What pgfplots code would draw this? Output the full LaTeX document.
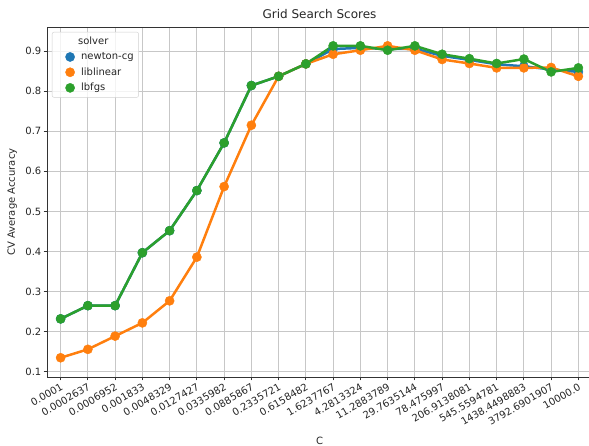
\documentclass[border=0pt]{standalone}
\usepackage{fontspec}
\setmainfont{DejaVu Sans}
\usepackage{pgfplots}
\pgfplotsset{compat=1.18}
\definecolor{tabblue}{HTML}{1F77B4}
\definecolor{taborange}{HTML}{FF7F0E}
\definecolor{tabgreen}{HTML}{2CA02C}
\definecolor{txt}{HTML}{262626}
\begin{document}
\begin{tikzpicture}
\begin{axis}[
  at={(47pt,69pt)}, anchor=south west,
  scale only axis, width=545pt, height=350pt,
  xmin=-0.5, xmax=19.5, ymin=0.087, ymax=0.96,
  xtick={0,...,19},
  xticklabels={0.0001,0.0002637,0.0006952,0.001833,0.0048329,0.0127427,0.0335982,0.0885867,0.2335721,0.6158482,1.6237767,4.2813324,11.2883789,29.7635144,78.475997,206.9138081,545.5594781,1438.4498883,3792.6901907,10000.0},
  ytick={0.1,0.2,0.3,0.4,0.5,0.6,0.7,0.8,0.9},
  yticklabels={0.1,0.2,0.3,0.4,0.5,0.6,0.7,0.8,0.9},
  /pgf/number format/assume math mode=true,
  tick pos=left, tick align=outside, major tick length=3.5pt,
  tick style={color=black!80, line width=0.8pt},
  axis line style={color=black!80, line width=0.8pt},
  grid=major, major grid style={color=black!22, line width=0.9pt},
  tick label style={font=\fontsize{10}{12}\selectfont, text=txt},
  xticklabel style={rotate=30, anchor=north east, inner sep=1.5pt},
  yticklabel style={inner sep=2pt},
  title={Grid Search Scores},
  title style={font=\fontsize{12}{14}\selectfont, text=txt, yshift=-1pt},
  xlabel={C}, ylabel={CV Average Accuracy},
  label style={font=\fontsize{10}{12}\selectfont, text=txt},
  xlabel style={at={(axis description cs:0.5,0)}, anchor=center, yshift=-64pt},
  ylabel style={at={(axis description cs:-0.064,0.5)}, anchor=center},
  legend style={at={(axis description cs:0.009,0.986)}, anchor=north west,
    draw=black!18, rounded corners=2pt, fill=white, fill opacity=0.8, text opacity=1,
    font=\fontsize{10}{12}\selectfont, text=txt, row sep=2.5pt, inner sep=3pt},
  legend cell align=left,
  legend image code/.code={\path[draw=none,fill=none] (0pt,0pt) rectangle (24pt,0.1pt); \draw[#1, fill opacity=1, draw opacity=1] plot[only marks] coordinates {(15pt,0pt)};},
  every axis plot/.append style={line width=2.5pt, mark=*, mark size=4.6pt},
]
\addlegendimage{empty legend}
\addlegendentry{\hspace{-3pt}solver}
\addplot[color=tabblue, mark options={fill=tabblue, draw=tabblue, line width=0.4pt}] coordinates {
(0,0.232)(1,0.265)(2,0.265)(3,0.397)(4,0.452)(5,0.552)(6,0.671)(7,0.814)(8,0.837)(9,0.868)
(10,0.905)(11,0.908)(12,0.905)(13,0.906)(14,0.888)(15,0.878)(16,0.867)(17,0.862)(18,0.854)(19,0.848)};
\addlegendentry{newton-cg}
\addplot[color=taborange, mark options={fill=taborange, draw=taborange, line width=0.4pt}] coordinates {
(0,0.135)(1,0.156)(2,0.189)(3,0.222)(4,0.277)(5,0.386)(6,0.562)(7,0.715)(8,0.837)(9,0.868)
(10,0.892)(11,0.902)(12,0.913)(13,0.902)(14,0.879)(15,0.869)(16,0.858)(17,0.858)(18,0.859)(19,0.837)};
\addlegendentry{liblinear}
\addplot[color=tabgreen, mark options={fill=tabgreen, draw=tabgreen, line width=0.4pt}] coordinates {
(0,0.232)(1,0.265)(2,0.265)(3,0.397)(4,0.452)(5,0.552)(6,0.671)(7,0.814)(8,0.837)(9,0.868)
(10,0.913)(11,0.913)(12,0.902)(13,0.913)(14,0.892)(15,0.881)(16,0.869)(17,0.880)(18,0.848)(19,0.858)};
\addlegendentry{lbfgs}
\end{axis}
\pgfresetboundingbox
\path[use as bounding box] (0pt,0pt) rectangle (589pt,446pt);
\end{tikzpicture}
\end{document}
